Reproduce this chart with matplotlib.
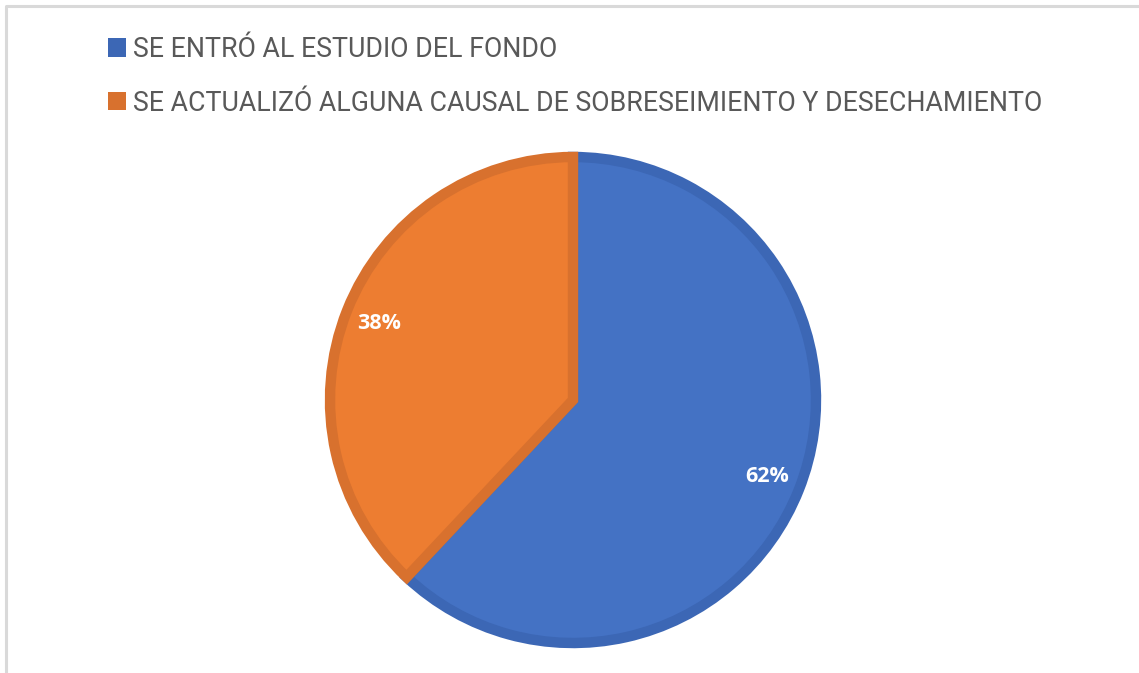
import matplotlib
matplotlib.use("Agg")
import matplotlib.pyplot as plt
from matplotlib.patches import Patch
from matplotlib.lines import Line2D

# data
labels = ["SE ENTRÓ AL ESTUDIO DEL FONDO",
          "SE ACTUALIZÓ ALGUNA CAUSAL DE SOBRESEIMIENTO Y DESECHAMIENTO"]
shares = [62, 38]
fill_colors = ["#4472C4", "#ED7D31"]
edge_colors = ["#3C67B5", "#D8712E"]

W, H = 1139, 673
fig = plt.figure(figsize=(W / 100, H / 100), dpi=100)

# light frame (only top and left edges show in the original crop)
fig.lines.append(Line2D([6 / W, 6 / W, 1], [0, 1 - 6 / H, 1 - 6 / H],
                        transform=fig.transFigure, color="#d9d9d9", linewidth=2.2))

# pie axes: centre at (573, 400) px, outer radius ~248 px
cx, cy, r = 573, H - 400, 243
half = 265
ax = fig.add_axes([(cx - half) / W, (cy - half) / H, 2 * half / W, 2 * half / H])
wedges, texts, autotexts = ax.pie(
    shares, colors=fill_colors, startangle=90, counterclock=False,
    autopct="%1.0f%%", pctdistance=0.86,
    wedgeprops=dict(linewidth=7.5, joinstyle="miter"),
    textprops=dict(color="white", fontsize=15.5, fontweight="bold", family="Open Sans"))
for w, ec in zip(wedges, edge_colors):
    w.set_edgecolor(ec)
lim = half / r
ax.set_xlim(-lim, lim)
ax.set_ylim(-lim, lim)
ax.set_aspect("equal")
ax.axis("off")

handles = [Patch(facecolor=c, edgecolor="none") for c in edge_colors]
fig.legend(handles, labels, loc="upper left", bbox_to_anchor=(97 / W, 1 - 25 / H),
           frameon=False, prop=dict(family="Roboto", size=19.3),
           labelcolor="#595959", handlelength=0.68, handleheight=0.68,
           handletextpad=0.25, labelspacing=1.0, borderaxespad=0)

fig.savefig("out.png", dpi=100, facecolor="white")
